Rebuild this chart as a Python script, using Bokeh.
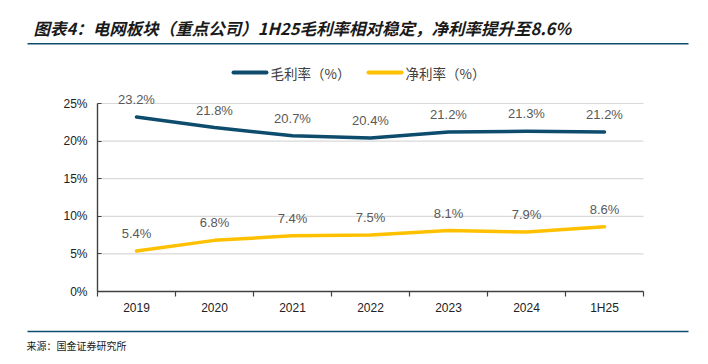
import numpy as np
from bokeh.plotting import figure
from bokeh.models import (Range1d, FixedTicker, ColumnDataSource, LabelSet,
                          LinearAxis, CustomJSTickFormatter)
from bokeh.core.properties import value
from bokeh.embed import file_html
from bokeh.resources import INLINE

categories = ["2019", "2020", "2021", "2022", "2023", "2024", "1H25"]
gross_margin = [23.2, 21.8, 20.7, 20.4, 21.2, 21.3, 21.2]
net_margin = [5.4, 6.8, 7.4, 7.5, 8.1, 7.9, 8.6]
y_ticks = [0, 5, 10, 15, 20, 25]
series_names = ["毛利率（%）", "净利率（%）"]
title_text = "图表4：电网板块（重点公司）1H25毛利率相对稳定，净利率提升至8.6%"
source_text = "来源：国金证券研究所"

BLUE = "#0E4C6E"
YELLOW = "#FFC000"
AXIS = "#404040"
CJK = "Noto Sans CJK SC"
LAT = "Liberation Sans"

W, H = 692, 352
# plot-area placement in canvas pixels
FL, FR, FT, FB = 97, 643, 103, 291
n = len(categories)
ymax = 25
xpx = (FR - FL) / n
ypx = (FB - FT) / ymax
x_range = Range1d(-FL / xpx, n + (W - FR) / xpx)
y_range = Range1d(-(H - FB) / ypx, ymax + FT / ypx)

p = figure(width=W, height=H, output_backend="svg", toolbar_location=None,
           x_range=x_range, y_range=y_range, x_axis_type=None, y_axis_type=None,
           min_border=0, min_border_left=0, min_border_right=0,
           min_border_top=0, min_border_bottom=0)
p.outline_line_color = None
p.extra_x_ranges = {"px": Range1d(0, W)}
p.extra_y_ranges = {"px": Range1d(H, 0)}

# horizontal gridlines
p.segment(x0=[0] * len(y_ticks), x1=[n] * len(y_ticks), y0=y_ticks, y1=y_ticks,
          line_color="#D9D9D9", line_width=1.2)

xs = np.arange(n) + 0.5
src = ColumnDataSource(dict(x=xs, g=gross_margin, nm=net_margin,
                            gl=[f"{v:.1f}%" for v in gross_margin],
                            nl=[f"{v:.1f}%" for v in net_margin]))

p.line("x", "g", source=src, line_color=BLUE, line_width=3.5, line_join="round", line_cap="round")
p.line("x", "nm", source=src, line_color=YELLOW, line_width=3.5, line_join="round", line_cap="round")

for col, lab in (("g", "gl"), ("nm", "nl")):
    p.add_layout(LabelSet(x="x", y=col, text=lab, source=src, y_offset=17.5,
                          text_align="center", text_baseline="middle",
                          text_font=value(LAT), text_font_size="13px", text_color="#595959"))

# axes fixed at the plot-area edges
xaxis = LinearAxis(fixed_location=0, bounds=(0, n),
                   ticker=FixedTicker(ticks=list(xs), minor_ticks=list(range(n + 1))),
                   major_label_overrides={float(x): c for x, c in zip(xs, categories)},
                   major_tick_out=0, major_tick_in=0, minor_tick_out=5, minor_tick_in=0,
                   minor_tick_line_color=AXIS, minor_tick_line_width=1.2,
                   axis_line_color=AXIS, axis_line_width=1.4,
                   major_label_text_font=LAT, major_label_text_font_size="12px",
                   major_label_text_color="#222222", major_label_standoff=4)
p.add_layout(xaxis, "below")

yaxis = LinearAxis(fixed_location=0, bounds=(0, ymax),
                   ticker=FixedTicker(ticks=y_ticks, minor_ticks=[]),
                   formatter=CustomJSTickFormatter(code="return tick.toFixed(0) + '%';"),
                   major_tick_out=0, major_tick_in=4, major_tick_line_color=AXIS,
                   axis_line_color=AXIS, axis_line_width=1.4,
                   major_label_text_font=LAT, major_label_text_font_size="12px",
                   major_label_text_color="#222222", major_label_standoff=10)
p.add_layout(yaxis, "left")

# header / footer in pixel coordinates
kw = dict(x_range_name="px", y_range_name="px")
p.text(x=[33], y=[27], text=[title_text], text_font=value(CJK), text_font_size="16.5px",
       text_font_style="bold italic", text_color="#1a1a1a",
       text_baseline="middle", text_align="left", **kw)
p.segment(x0=[27, 27], x1=[688, 688], y0=[43.3, 331], y1=[43.3, 331],
          line_color=BLUE, line_width=1.6, **kw)
p.segment(x0=[233, 368], x1=[266, 401], y0=[72, 72], y1=[72, 72],
          line_color=[BLUE, YELLOW], line_width=4, line_cap="round", **kw)
p.text(x=[270, 405], y=[72, 72], text=series_names, text_font=value(CJK),
       text_font_size="13.5px", text_color="#404040",
       text_baseline="middle", text_align="left", **kw)
p.text(x=[26], y=[345], text=[source_text], text_font=value(CJK), text_font_size="10px",
       text_color="#1a1a1a", text_baseline="middle", text_align="left", **kw)

open("out.html", "w").write(file_html(p, INLINE))
